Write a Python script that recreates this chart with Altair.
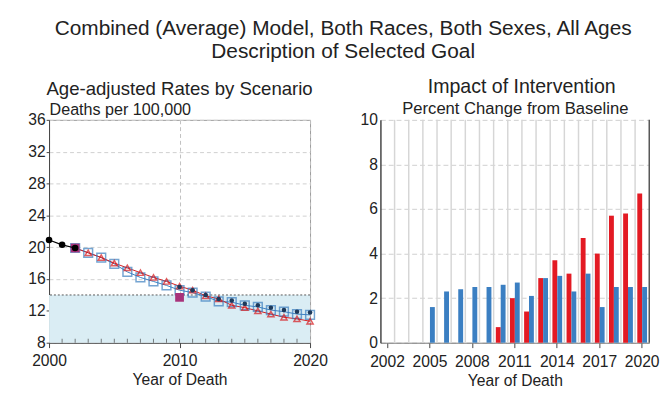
import altair as alt
import pandas as pd

FONT = "Liberation Sans"

# ---------------- Left panel data (age-adjusted rates) ----------------
obs_years = [2000, 2001, 2002]
obs_rates = [20.9, 20.3, 19.9]

proj_years = list(range(2002, 2021))
baseline_rates = [19.9, 19.3, 18.7, 17.9, 16.9, 16.2, 15.7, 15.2, 14.6, 14.3,
                  13.8, 13.2, 13.1, 12.7, 12.5, 12.1, 11.9, 11.6, 11.5]
intervention_rates = [19.9, 19.3, 18.7, 18.0, 17.4, 16.8, 16.2, 15.7, 15.1, 14.6,
                      13.9, 13.5, 12.7, 12.4, 12.0, 11.6, 11.2, 11.0, 10.7]
alt_years = list(range(2010, 2021))
alt_rates = [15.0, 14.6, 14.0, 13.5, 13.3, 12.9, 12.7, 12.4, 12.1, 11.9, 11.8]
goal_marker_years = [2002, 2010]
goal_marker_rates = [19.9, 13.7]
goal_rate = 14
rate_floor = 8
rate_ticks = [8, 12, 16, 20, 24, 28, 32, 36]
year_start, year_end = 2000, 2020
major_years = [2000, 2010, 2020]
minor_years = list(range(2001, 2020))

# ---------------- Right panel data (percent change) ----------------
bar_years = list(range(2002, 2021))
blue_years = list(range(2005, 2021))
blue_pct = [1.6, 2.3, 2.4, 2.5, 2.5, 2.6, 2.7, 2.1, 2.9, 3.0, 2.3, 3.1, 1.6, 2.5, 2.5, 2.5]
red_years = list(range(2010, 2021))
red_pct = [0.7, 2.0, 1.4, 2.9, 3.7, 3.1, 4.7, 4.0, 5.7, 5.8, 6.7]
bar_label_years = [2002, 2005, 2008, 2011, 2014, 2017, 2020]
pct_ticks = [0, 2, 4, 6, 8, 10]
series_order = ["Intervention", "Comparison"]
series_colors = ["#e31a23", "#3b7fc2"]

# ---------------- Left panel ----------------
LW, LH = 267, 228

x_left = alt.X(
    "year:Q",
    scale=alt.Scale(domain=[year_start, year_end], nice=False, zero=False),
    axis=alt.Axis(
        values=major_years,
        format="d",
        labelOverlap=False,
        labelFlush=False,
        tickSize=5,
        grid=True,
        gridDash=[4, 3],
        gridColor="#c0c0c0",
        domainColor="#444",
        tickColor="#444",
        labelFontSize=16,
        labelPadding=5,
        title="Year of Death",
        titleFontSize=16,
        titleFontWeight="normal",
        titlePadding=4,
    ),
)
y_left = alt.Y(
    "rate:Q",
    scale=alt.Scale(domain=[rate_floor, 36], nice=False, zero=False),
    axis=alt.Axis(
        values=rate_ticks,
        tickCount=len(rate_ticks),
        labelOverlap=False,
        labelFlush=False,
        grid=True,
        gridDash=[4, 3],
        gridColor="#d0d0d0",
        domainColor="#444",
        tickColor="#444",
        tickSize=3,
        labelPadding=1,
        labelFontSize=16,
        title="Deaths per 100,000",
        titleAngle=0,
        titleAlign="left",
        titleBaseline="alphabetic",
        titleX=0,
        titleY=-5,
        titleFontSize=16.5,
        titleFontWeight="normal",
    ),
)

band_df = pd.DataFrame({"year": [year_start], "year2": [year_end],
                        "rate": [rate_floor], "rate2": [goal_rate]})
goal_df = pd.DataFrame({"rate": [goal_rate]})
minor_df = pd.DataFrame({"year": minor_years})
obs_df = pd.DataFrame({"year": obs_years, "rate": obs_rates})
base_df = pd.DataFrame({"year": proj_years, "rate": baseline_rates})
int_df = pd.DataFrame({"year": proj_years, "rate": intervention_rates})
alt_df = pd.DataFrame({"year": alt_years, "rate": alt_rates})
gm_df = pd.DataFrame({"year": goal_marker_years, "rate": goal_marker_rates})

band = alt.Chart(band_df).mark_rect(color="#daedf4").encode(
    x=x_left, x2="year2:Q", y=y_left, y2="rate2:Q")
goal_line = alt.Chart(goal_df).mark_rule(color="#555", strokeDash=[2, 2], strokeWidth=1).encode(
    y=y_left)
minor_ticks = alt.Chart(minor_df).mark_tick(color="#444", size=4, thickness=1,
                                            orient="vertical").encode(
    x=x_left, y=alt.value(LH - 2))
base_line = alt.Chart(base_df).mark_line(color="#3b7fc0", strokeWidth=1).encode(x=x_left, y=y_left)
base_pts = alt.Chart(base_df).mark_point(shape="square", filled=False, color="#3b7fc0",
                                         size=80, strokeWidth=1.5).encode(x=x_left, y=y_left)
int_line = alt.Chart(int_df).mark_line(color="#d7191c", strokeWidth=1).encode(x=x_left, y=y_left)
int_pts = alt.Chart(int_df).mark_point(shape="triangle-up", filled=False, color="#d7191c",
                                       size=40, strokeWidth=1.5).encode(x=x_left, y=y_left)
gm_pts = alt.Chart(gm_df).mark_point(shape="square", filled=True, color="#a8327a", opacity=1,
                                     size=80).encode(x=x_left, y=y_left)
alt_pts = alt.Chart(alt_df).mark_point(shape="circle", filled=True, color="#1d3a5c", opacity=1,
                                       size=22).encode(x=x_left, y=y_left)
obs_line = alt.Chart(obs_df).mark_line(color="#000", strokeWidth=1.2).encode(x=x_left, y=y_left)
obs_pts = alt.Chart(obs_df).mark_point(shape="circle", filled=True, color="#000", opacity=1,
                                       size=45).encode(x=x_left, y=y_left)

left = alt.layer(band, goal_line, minor_ticks, base_line, int_line, base_pts, int_pts, gm_pts,
                 alt_pts, obs_line, obs_pts).properties(
    width=LW, height=LH,
    title=alt.TitleParams("Age-adjusted Rates by Scenario", fontSize=19, fontWeight="normal",
                          anchor="middle", frame="group", offset=3, color="#222"),
    view=alt.ViewBackground(stroke="#999", strokeWidth=1),
)

# ---------------- Right panel ----------------
RW, RH = 275, 228

bars_df = pd.concat([
    pd.DataFrame({"year": red_years, "pct": red_pct, "series": series_order[0]}),
    pd.DataFrame({"year": blue_years, "pct": blue_pct, "series": series_order[1]}),
])
grid_df = pd.DataFrame({"year": bar_years[1:]})

x_axis_right = alt.Axis(
    values=bar_label_years, labelAngle=0, labelOverlap=False, grid=False,
    tickSize=5, tickColor="#444", domainColor="#777", labelFontSize=16, labelPadding=6,
    title="Year of Death", titleFontSize=16, titleFontWeight="normal", titlePadding=4,
)
x_scale_right = alt.Scale(domain=bar_years, paddingInner=0, paddingOuter=0)

y_right = alt.Y(
    "pct:Q",
    scale=alt.Scale(domain=[0, 10], nice=False),
    axis=alt.Axis(
        values=pct_ticks, labelOverlap=False, labelFlush=False,
        grid=True, gridDash=[5, 3], gridColor="#cfcfcf",
        domainColor="#444", domainWidth=1.5, tickSize=0, labelPadding=3, labelFontSize=16,
        title="Percent Change from Baseline", titleAngle=0, titleAlign="center",
        titleBaseline="alphabetic", titleX=RW / 2, titleY=-6, titleFontSize=17,
        titleFontWeight="normal",
    ),
)

vgrid = alt.Chart(grid_df).mark_rule(color="#d6d6d6", strokeWidth=1.5).encode(
    x=alt.X("year:O", bandPosition=0, scale=x_scale_right, axis=x_axis_right),
    y=alt.value(0), y2=alt.value(RH),
)
bars = alt.Chart(bars_df).mark_bar().encode(
    x=alt.X("year:O", scale=x_scale_right, axis=x_axis_right),
    xOffset=alt.XOffset("series:N", sort=series_order,
                        scale=alt.Scale(domain=series_order, paddingInner=0, paddingOuter=0.45)),
    y=y_right,
    color=alt.Color("series:N", scale=alt.Scale(domain=series_order, range=series_colors),
                    legend=None),
)
right_border = alt.Chart(pd.DataFrame({"edge": [0]})).mark_rule(
    color="#555", strokeWidth=1.5).encode(
    x=alt.value(RW), y=alt.value(0), y2=alt.value(RH))

right = alt.layer(vgrid, bars, right_border).properties(
    width=RW, height=RH,
    title=alt.TitleParams("Impact of Intervention", fontSize=20, fontWeight="normal",
                          anchor="middle", frame="group", offset=3, dx=7, color="#222"),
    view=alt.ViewBackground(strokeWidth=0),
)

chart = alt.hconcat(left, right, spacing=32).properties(
    title=alt.TitleParams(
        ["Combined (Average) Model, Both Races, Both Sexes, All Ages",
         "Description of Selected Goal"],
        fontSize=21.3, lineHeight=23, fontWeight="normal", anchor="middle", offset=16,
        color="#222",
    ),
    padding={"left": 19, "top": 6, "right": 0, "bottom": 0},
    background="white",
).configure(font=FONT).configure_axis(labelColor="#222", titleColor="#222")

chart.save("out.html", embed_options={"renderer": "svg", "actions": False})
